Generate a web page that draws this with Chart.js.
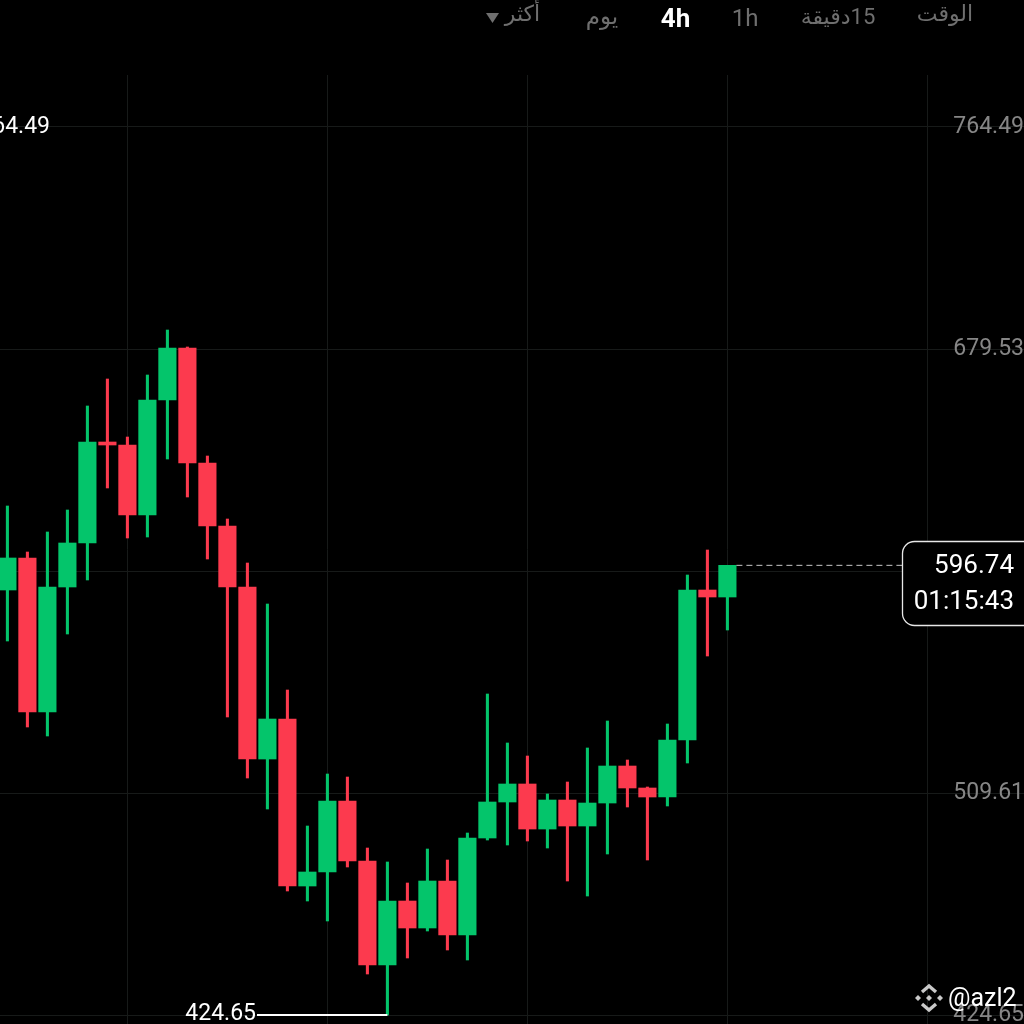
<!DOCTYPE html>
<html><head><meta charset="utf-8">
<style>html,body{margin:0;padding:0;background:#000;overflow:hidden}#wrap{width:1024px;height:1024px;position:relative}</style>
<script src="https://cdn.jsdelivr.net/npm/chart.js@4"></script>
</head><body><div id="wrap"><canvas id="c" width="1024" height="1024"></canvas></div>
<script>
const opens  = [587.30,599.55,540.61,588.45,605.29,643.94,642.79,616.00,660.01,679.91,635.90,611.79,588.45,522.62,537.93,474.02,479.38,506.55,483.59,443.79,468.28,457.95,475.93,455.27,492.39,506.17,513.06,495.83,506.93,496.98,505.78,519.94,511.53,508.08,529.89,587.30,584.62];
const highs  = [619.45,601.84,609.50,617.92,657.72,668.05,645.85,669.58,686.80,680.30,638.58,614.47,597.63,581.94,549.03,496.98,516.88,515.73,488.56,483.21,475.17,488.18,483.97,494.30,547.50,528.75,523.77,509.23,513.82,526.84,537.17,522.24,511.91,536.02,593.04,602.61,596.74];
const lows   = [567.78,534.87,531.43,570.46,591.13,626.34,607.20,607.58,637.43,622.89,599.16,538.70,515.35,503.49,472.11,468.28,460.63,481.29,440.34,424.65,446.47,456.80,449.53,445.70,491.62,489.71,491.24,488.56,475.93,470.19,486.27,504.25,483.97,504.64,521.09,562.04,571.99];
const closes = [599.55,540.61,588.45,605.29,643.94,642.79,616.00,660.01,679.91,635.90,611.79,588.45,522.62,537.93,474.02,479.38,506.55,483.59,443.79,468.28,457.95,475.93,455.27,492.39,506.17,513.06,495.83,506.93,496.98,505.78,519.94,511.53,508.08,529.89,587.30,584.62,596.74];
const priceTicks = [764.49,679.53,594.57,509.61,424.65];
const timeTicks = [6,16,26,36,46];
const tabs = ["الوقت","15دقيقة","1h","4h","يوم","أكثر"];
const highLabel = "764.49", lowLabel = "424.65", lastPrice = "596.74", countdown = "01:15:43", handle = "@azl2";

const GREEN = "#04C56B", RED = "#FC3A4E";
const colors = opens.map((o,i)=> closes[i]>=o ? GREEN : RED);
const FONT = 'Roboto, "Noto Sans", "DejaVu Sans", sans-serif';

const overlay = {
  id:'overlay',
  afterDraw(chart){
    const ctx = chart.ctx, X = chart.scales.x, Y = chart.scales.y;
    ctx.save();
    // Header tabs
    ctx.textBaseline='middle'; ctx.textAlign='center'; ctx.direction='rtl';
    const tabX=[945,838,745,675.5,602,522.5], tabY=[15,18,20,20,18,15];
    const tabSize=[22,22,24,26,23,22];
    tabs.forEach((t,i)=>{
      ctx.fillStyle = t==="4h" ? "#ffffff" : "#6f6f6f";
      ctx.font = (t==="4h"?"700 ":"400 ")+tabSize[i]+"px "+FONT;
      ctx.fillText(t,tabX[i],tabY[i]);
    });
    ctx.direction='ltr';
    ctx.fillStyle="#6f6f6f";
    ctx.beginPath();ctx.moveTo(486,13);ctx.lineTo(499,13);ctx.lineTo(492.5,23);ctx.closePath();ctx.fill();

    // Left clipped high label
    ctx.font="23px "+FONT; ctx.fillStyle="#ffffff"; ctx.textAlign='right';
    ctx.fillText(highLabel,50,Y.getPixelForValue(764.49));

    // Low marker
    const lowIdx = lows.indexOf(Math.min(...lows));
    const lx = X.getPixelForValue(lowIdx), ly = Y.getPixelForValue(lows[lowIdx]);
    ctx.strokeStyle="#ffffff"; ctx.lineWidth=2;
    ctx.beginPath();ctx.moveTo(257,ly);ctx.lineTo(lx,ly);ctx.stroke();
    ctx.fillText(lowLabel,256,ly-1);

    // Last price dashed line
    const py = Y.getPixelForValue(closes[closes.length-1]);
    const px = X.getPixelForValue(closes.length-1);
    ctx.strokeStyle="#c8c8c8"; ctx.lineWidth=1; ctx.setLineDash([6,4]);
    ctx.beginPath();ctx.moveTo(px+9,py);ctx.lineTo(902,py);ctx.stroke();
    ctx.setLineDash([]);

    // Price box
    ctx.fillStyle="#000"; ctx.strokeStyle="#e8e8e8"; ctx.lineWidth=1.3;
    ctx.beginPath();ctx.roundRect(902.5,541.5,140,84,12);ctx.fill();ctx.stroke();
    ctx.fillStyle="#ffffff"; ctx.font="26px "+FONT;
    ctx.fillText(lastPrice,1014,566);
    ctx.fillText(countdown,1014,602);

    // Watermark logo
    ctx.fillStyle="#c9c9c9";
    const cx=929, cy=998;
    const dia=(x,y,r)=>{ctx.beginPath();ctx.moveTo(x,y-r);ctx.lineTo(x+r,y);ctx.lineTo(x,y+r);ctx.lineTo(x-r,y);ctx.closePath();ctx.fill();};
    dia(cx-11,cy,3); dia(cx+11,cy,3); dia(cx,cy,3);
    ctx.lineWidth=3.4; ctx.strokeStyle="#c9c9c9"; ctx.lineJoin='miter';
    ctx.beginPath();ctx.moveTo(cx-7,cy-6);ctx.lineTo(cx,cy-12);ctx.lineTo(cx+7,cy-6);ctx.stroke();
    ctx.beginPath();ctx.moveTo(cx-7,cy+6);ctx.lineTo(cx,cy+12);ctx.lineTo(cx+7,cy+6);ctx.stroke();

    ctx.fillStyle="#ffffff"; ctx.font="25px "+FONT; ctx.textAlign='left';
    ctx.fillText(handle,948,1000);
    ctx.restore();
  }
};

new Chart(document.getElementById('c'),{
  type:'bar',
  data:{datasets:[
    {label:'body',data:opens.map((o,i)=>({x:i,y:[o,closes[i]]})),backgroundColor:colors,barThickness:17.5,borderWidth:0,borderSkipped:false,grouped:false,order:1},
    {label:'wick',data:opens.map((o,i)=>({x:i,y:[lows[i],highs[i]]})),backgroundColor:colors,barThickness:2.4,borderWidth:0,borderSkipped:false,grouped:false,order:2}
  ]},
  options:{
    responsive:false,animation:false,devicePixelRatio:1,
    layout:{padding:{top:75,left:0,right:0,bottom:0}},
    plugins:{legend:{display:false},tooltip:{enabled:false}},
    scales:{
      x:{type:'linear',offset:false,min:-0.37,max:50.83,
        afterBuildTicks(s){s.ticks=timeTicks.map(v=>({value:v}));},
        afterFit(s){s.height=0;s.paddingLeft=0;s.paddingRight=0;s.paddingTop=0;s.paddingBottom=0;},
        ticks:{display:false},
        grid:{color:'#171a19',lineWidth:1,drawTicks:false,offset:false},border:{display:false}},
      y:{type:'linear',position:'right',min:421.21,max:784.39,
        afterBuildTicks(s){s.ticks=priceTicks.map(v=>({value:v}));},
        afterFit(s){s.width=0;s.paddingTop=0;s.paddingBottom=0;s.paddingLeft=0;s.paddingRight=0;},
        ticks:{mirror:true,padding:0,color:'#868686',font:{family:FONT,size:23},callback:v=>v.toFixed(2)},
        grid:{color:'#171a19',lineWidth:1,drawTicks:false},border:{display:false}}
    }
  },
  plugins:[overlay]
});
</script></body></html>
